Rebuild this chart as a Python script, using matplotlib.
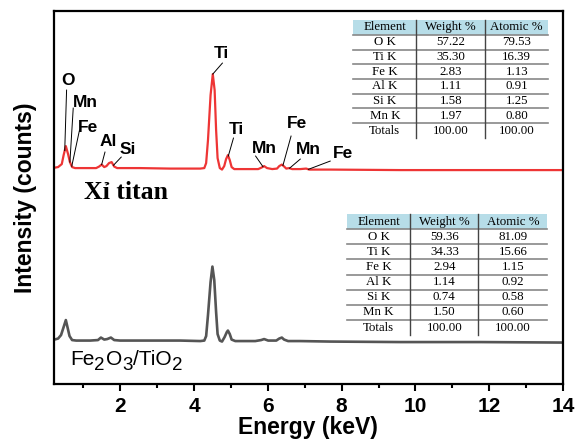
import numpy as np
import matplotlib.pyplot as plt
from matplotlib.patches import Rectangle
from matplotlib.transforms import offset_copy

plt.rcParams['font.family'] = ['Liberation Sans', 'DejaVu Sans']

# spectrum of "Xi titan" (red)
red_energy = [0.24, 0.32, 0.42, 0.47, 0.53, 0.59, 0.64, 0.70, 0.78, 1.05, 1.35, 1.43, 1.50, 1.57,
              1.63, 1.70, 1.77, 1.84, 1.92, 2.54, 3.35, 4.17, 4.28, 4.33, 4.38, 4.45, 4.51, 4.56,
              4.60, 4.64, 4.70, 4.76, 4.82, 4.87, 4.92, 4.97, 5.02, 5.09, 5.52, 5.74, 5.83, 5.90,
              5.98, 6.12, 6.25, 6.31, 6.38, 6.43, 6.50, 6.58, 6.66, 6.88, 7.04, 7.12, 7.69, 9.59,
              11.76, 14.0]
red_counts = [46.5, 47, 50, 59, 68, 60, 52, 47, 46, 46, 46, 47.5, 49.5, 47,
              48, 51, 52, 47.5, 46, 46, 45.5, 45.5, 46, 51, 74, 119, 140, 124,
              84, 56, 46, 44.5, 48, 55, 59, 54, 47, 45, 45, 45, 46.5, 48,
              46, 45, 45.5, 48, 49.5, 48, 45.5, 46, 45, 45, 45.5, 44.5, 44.5, 44,
              44, 44]
red_offset = 170

# spectrum of Fe2O3/TiO2 (gray)
gray_energy = [0.22, 0.32, 0.40, 0.47, 0.53, 0.58, 0.63, 0.70, 0.81, 1.19, 1.40, 1.48, 1.57, 1.65,
               1.75, 1.84, 2.00, 2.81, 3.63, 4.17, 4.28, 4.33, 4.38, 4.45, 4.50, 4.55, 4.60, 4.64,
               4.70, 4.76, 4.83, 4.89, 4.92, 4.97, 5.02, 5.12, 5.66, 5.82, 5.90, 6.01, 6.23, 6.31,
               6.38, 6.44, 6.55, 6.88, 7.69, 9.59, 11.76, 14.0]
gray_counts = [44.5, 45.5, 49, 57, 64, 56, 48, 44, 43.5, 43.5, 44, 46.5, 44.5, 45,
               46.5, 44, 43.5, 43.5, 43.5, 43, 43.5, 48, 69, 102, 117.5, 104, 72, 50,
               43.5, 42.5, 47, 52, 53.5, 50, 44.5, 43, 43, 44, 45, 43.5, 43.5, 45.5,
               46.5, 44.5, 43, 43, 42.5, 42, 42, 41.5]

# peak labels: text, energy on curve, label position, leader top
peak_names = ['O', 'Mn', 'Fe', 'Al', 'Si', 'Ti', 'Ti', 'Mn', 'Fe', 'Mn', 'Fe']
peak_energy = [0.50, 0.64, 0.69, 1.50, 1.82, 4.51, 4.93, 5.87, 6.41, 6.59, 7.10]
label_pos = [(0.58, 304), (1.05, 282), (1.14, 257), (1.67, 243), (2.22, 235), (4.73, 331),
             (5.14, 255), (5.90, 236), (6.80, 261), (7.10, 235), (8.05, 231)]
leader_top = [(0.55, 294), (0.73, 276), (0.90, 254), (1.59, 232), (2.03, 227), (4.77, 321),
              (5.07, 246), (5.67, 228), (6.63, 248), (6.88, 225), (7.69, 223)]

table_cols = ['Element', 'Weight %', 'Atomic %']
table_elements = ['O K', 'Ti K', 'Fe K', 'Al K', 'Si K', 'Mn K', 'Totals']
red_weight = ['57.22', '35.30', '2.83', '1.11', '1.58', '1.97', '100.00']
red_atomic = ['79.53', '16.39', '1.13', '0.91', '1.25', '0.80', '100.00']
gray_weight = ['59.36', '34.33', '2.94', '1.14', '0.74', '1.50', '100.00']
gray_atomic = ['81.09', '15.66', '1.15', '0.92', '0.58', '0.60', '100.00']

fig = plt.figure(figsize=(5.77, 4.44), dpi=100)
ax = fig.add_axes([0.093, 0.135, 0.883, 0.840])

red_y = np.array(red_counts) + red_offset
ax.plot(red_energy, red_y, color='#ee3535', lw=1.6)
ax.plot(gray_energy, gray_counts, color='#555555', lw=1.9)

for name, e, lp, lt in zip(peak_names, peak_energy, label_pos, leader_top):
    yb = np.interp(e, red_energy, red_y)
    ax.plot([lt[0], e], [lt[1], yb], color='black', lw=0.7)
    ax.text(lp[0], lp[1], name, fontsize=12.5, fontweight='bold', ha='center', va='center')

ax.text(2.16, 192, 'Xỉ titan', fontsize=18.5, fontweight='bold',
        family=['Liberation Serif', 'DejaVu Serif'], ha='center', va='center')

# Fe2O3/TiO2 with big subscripts, piece by piece
renderer = fig.canvas.get_renderer()
dx = 0
for s, sub in [('Fe', False), ('2', True), ('O', False), ('3', True), ('/TiO', False), ('2', True)]:
    tr = offset_copy(ax.transData, fig=fig, x=dx, y=-5 if sub else 0, units='dots')
    t = ax.text(0.64, 19, s, fontsize=13.5 if sub else 15, ha='left', va='baseline', transform=tr)
    dx += t.get_window_extent(renderer).width + (1 if sub else 0)


def draw_table(weights, atomics, x0, top, widths, rowh):
    edges = np.concatenate([[x0], x0 + np.cumsum(widths)])
    rows = [table_cols] + [[el, w, a] for el, w, a in zip(table_elements, weights, atomics)]
    n = len(rows)
    ax.add_patch(Rectangle((x0, top - rowh), edges[-1] - x0, rowh, transform=ax.transAxes,
                           facecolor='#b7dde8', edgecolor='none'))
    for i in range(n - 1):
        yy = top - (i + 1) * rowh
        ax.plot([x0, edges[-1]], [yy, yy], transform=ax.transAxes, color='#888888', lw=1.2)
    for xx in edges[1:-1]:
        ax.plot([xx, xx], [top, top - n * rowh], transform=ax.transAxes, color='#444444', lw=1.0)
    for i, row in enumerate(rows):
        yc = top - (i + 0.5) * rowh
        for j, txt in enumerate(row):
            xc = (edges[j] + edges[j + 1]) / 2
            ax.text(xc, yc, txt, transform=ax.transAxes, ha='center', va='center',
                    fontsize=9.3, family=['Liberation Serif'])


draw_table(red_weight, red_atomic, 0.588, 0.976, np.array([0.124, 0.135, 0.124]), 0.0395)
draw_table(gray_weight, gray_atomic, 0.576, 0.456, np.array([0.124, 0.1335, 0.1355]), 0.0406)

ax.set_xlim(0.2, 14)
ax.set_ylim(0, 373)
ax.set_xticks([2, 4, 6, 8, 10, 12, 14])
ax.set_xticks([1, 3, 5, 7, 9, 11, 13], minor=True)
ax.set_yticks([])
ax.tick_params(axis='x', which='major', length=5, width=1.5, labelsize=15, pad=4)
ax.tick_params(axis='x', which='minor', length=3, width=1.5)
for lab in ax.get_xticklabels():
    lab.set_fontweight('bold')
for s in ax.spines.values():
    s.set_linewidth(1.6)

ax.set_xlabel('Energy (keV)', fontsize=16.5, fontweight='bold', labelpad=0)
ax.set_ylabel('Intensity (counts)', fontsize=16.5, fontweight='bold', labelpad=12)

plt.savefig('out.png', dpi=100)
